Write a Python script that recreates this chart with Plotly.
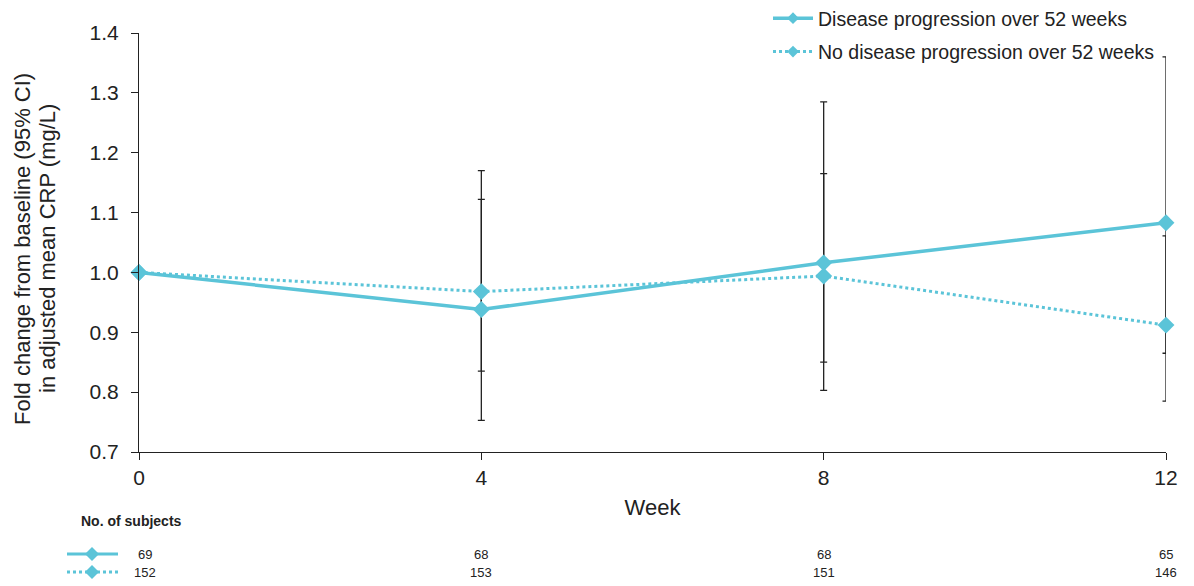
import plotly.graph_objects as go

weeks = [0, 4, 8, 12]
tick_labels = ["0", "4", "8", "12"]

prog_name = "Disease progression over 52 weeks"
prog_mean = [1.000, 0.938, 1.016, 1.083]
prog_lo = [1.000, 0.753, 0.803, 0.865]
prog_hi = [1.000, 1.170, 1.285, 1.360]
prog_n = [69, 68, 68, 65]

noprog_name = "No disease progression over 52 weeks"
noprog_mean = [1.000, 0.968, 0.994, 0.912]
noprog_lo = [1.000, 0.835, 0.850, 0.785]
noprog_hi = [1.000, 1.122, 1.165, 1.061]
noprog_n = [152, 153, 151, 146]

y_title_lines = ["Fold change from baseline (95% CI)", "in adjusted mean CRP (mg/L)"]

COLOR = "#5BC4D8"
FONT = "Liberation Sans, Arial, sans-serif"

fig = go.Figure()

# error bars (drawn first, behind lines/markers)
for mean, lo, hi in [(prog_mean, prog_lo, prog_hi), (noprog_mean, noprog_lo, noprog_hi)]:
    xs, ys, up, dn = [], [], [], []
    for w, m, l, h in zip(weeks, mean, lo, hi):
        if w == 0:
            continue
        xs.append(w); ys.append(m); up.append(h - m); dn.append(m - l)
    fig.add_trace(go.Scatter(
        x=xs, y=ys, mode="markers",
        marker=dict(size=1, color="rgba(0,0,0,0)"),
        error_y=dict(type="data", symmetric=False, array=up, arrayminus=dn,
                     color="#222222", thickness=1.3, width=3.5),
        showlegend=False, hoverinfo="skip", cliponaxis=False,
    ))

fig.add_trace(go.Scatter(
    x=weeks, y=prog_mean, mode="lines+markers", name=prog_name,
    line=dict(color=COLOR, width=3.5),
    marker=dict(symbol="diamond", size=13, color=COLOR),
    showlegend=False, cliponaxis=False,
))
fig.add_trace(go.Scatter(
    x=weeks, y=noprog_mean, mode="lines+markers", name=noprog_name,
    line=dict(color=COLOR, width=3, dash="dot"),
    marker=dict(symbol="diamond", size=13, color=COLOR),
    showlegend=False, cliponaxis=False,
))

# legend-only entries (smaller legend markers as in the original)
fig.add_trace(go.Scatter(
    x=[None], y=[None], mode="lines+markers", name=prog_name,
    line=dict(color=COLOR, width=3.5),
    marker=dict(symbol="diamond", size=9, color=COLOR), legendgroup="a",
))
fig.add_trace(go.Scatter(
    x=[None], y=[None], mode="lines+markers", name=noprog_name,
    line=dict(color=COLOR, width=3, dash="dot"),
    marker=dict(symbol="diamond", size=9, color=COLOR), legendgroup="b",
))

# page has an 8px body margin; figure is sized to fit inside the window
OFF = 8
W, H = 1194 - OFF, 586 - OFF
L, R, T, B = 139 - OFF, 28, 33 - OFF, 134
pw, ph = W - L - R, H - T - B

def px_x(p):
    return (p - OFF - L) / pw

def px_y(p):
    return (H - B - (p - OFF)) / ph

annotations = [
    dict(text="<b>No. of subjects</b>", x=px_x(79), y=px_y(521), xref="paper", yref="paper",
         xanchor="left", yanchor="middle", showarrow=False, font=dict(size=14, color="#222")),
]
for line_text, xp in zip(y_title_lines, [22, 47]):
    annotations.append(dict(text=line_text, x=px_x(xp), y=px_y(249), xref="paper", yref="paper",
                            xanchor="center", yanchor="middle", textangle=-90, showarrow=False,
                            font=dict(size=22, color="#222")))
for w, n1, n2 in zip(weeks, prog_n, noprog_n):
    xs = 6 if w == 0 else 0
    annotations.append(dict(text=str(n1), x=w, y=px_y(554), xref="x", yref="paper",
                            xanchor="center", yanchor="middle", showarrow=False, xshift=xs,
                            font=dict(size=13, color="#222")))
    annotations.append(dict(text=str(n2), x=w, y=px_y(572), xref="x", yref="paper",
                            xanchor="center", yanchor="middle", showarrow=False, xshift=xs,
                            font=dict(size=13, color="#222")))

shapes = []
for yy, dash in [(554, "solid"), (572, "dot")]:
    shapes.append(dict(type="line", xref="paper", yref="paper",
                       x0=px_x(67), x1=px_x(118), y0=px_y(yy), y1=px_y(yy),
                       line=dict(color=COLOR, width=3, dash=dash)))
    cx, cy, r = 92, yy, 7
    path = (f"M {px_x(cx - r)} {px_y(cy)} L {px_x(cx)} {px_y(cy - r)} "
            f"L {px_x(cx + r)} {px_y(cy)} L {px_x(cx)} {px_y(cy + r)} Z")
    shapes.append(dict(type="path", xref="paper", yref="paper", path=path,
                       fillcolor=COLOR, line=dict(color=COLOR, width=0)))

fig.update_layout(
    width=W, height=H,
    margin=dict(l=L, r=R, t=T, b=B, autoexpand=False),
    paper_bgcolor="white", plot_bgcolor="white",
    font=dict(family=FONT, color="#222222"),
    xaxis=dict(range=[0, 12], tickmode="array", tickvals=weeks, ticktext=tick_labels,
               showgrid=False, zeroline=False, showline=True, linecolor="#222", linewidth=1.2,
               ticks="outside", ticklen=7, tickcolor="#222", tickfont=dict(size=21),
               automargin=False,
               title=dict(text="Week", font=dict(size=22), standoff=11)),
    yaxis=dict(range=[0.7, 1.4], dtick=0.1, tick0=0.7, tickformat=".1f",
               showgrid=False, zeroline=False, showline=True, linecolor="#222", linewidth=1.2,
               ticks="outside", ticklen=7, tickcolor="#222", tickfont=dict(size=21),
               ticklabelstandoff=8, automargin=False),
    legend=dict(x=px_x(768), y=px_y(-1), xanchor="left", yanchor="top",
                font=dict(size=19.5, color="#222"), tracegroupgap=5,
                bgcolor="rgba(255,255,255,0)", itemwidth=40),
    showlegend=True,
    annotations=annotations,
    shapes=shapes,
)

fig.write_html("out.html")
